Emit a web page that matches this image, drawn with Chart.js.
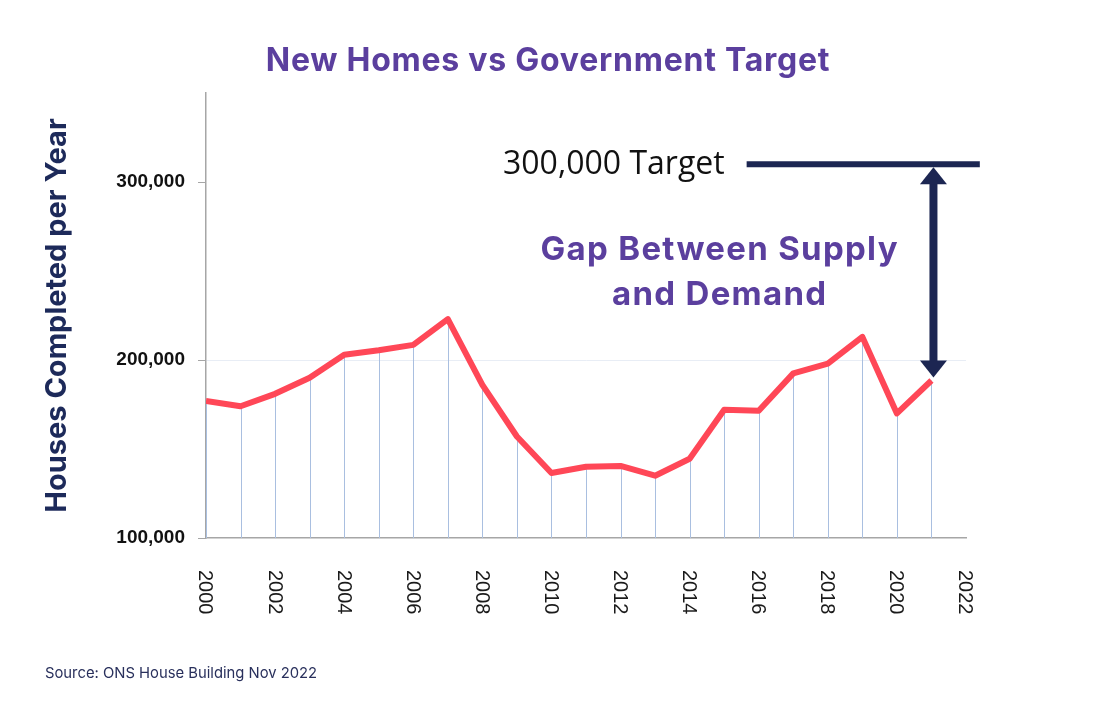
<!DOCTYPE html>
<html lang="en">
<head>
    <meta charset="UTF-8">
    <title>New Homes vs Government Target</title>
    <script src="https://cdn.jsdelivr.net/npm/chart.js"></script>
    <style>
        body {
            margin: 0;
            background: #ffffff;
        }

        .chart-box {
            width: 1096px;
            height: 710px;
        }
    </style>
</head>
<body>
    <div class="chart-box">
        <canvas id="homesChart" width="1096" height="710"></canvas>
    </div>

    <script>
        // data
        const years = [2000, 2001, 2002, 2003, 2004, 2005, 2006, 2007, 2008, 2009, 2010,
            2011, 2012, 2013, 2014, 2015, 2016, 2017, 2018, 2019, 2020, 2021];
        const completions = [177000, 174000, 181000, 190000, 203000, 205500, 208500, 223000,
            186000, 157000, 136500, 140000, 140500, 135000, 144500, 172000, 171500, 192500,
            198000, 213000, 170000, 188500];
        const xTickYears = [2000, 2002, 2004, 2006, 2008, 2010, 2012, 2014, 2016, 2018, 2020, 2022];
        const yTickValues = [100000, 200000, 300000];
        const targetValue = 310000;

        // annotation placement (in axis units)
        const targetFromYear = 2015.65;
        const targetToYear = 2022.4;
        const noteYear = 2014.87;
        const noteValue = 256000;

        const PURPLE = '#5b3f9e';
        const NAVY = '#1c2652';

        const annotations = {
            id: 'annotations',
            beforeDatasetsDraw(chart) {
                // thin drop lines from each point to the axis
                const ctx = chart.ctx;
                const y = chart.scales.y;
                ctx.save();
                ctx.strokeStyle = '#a9bfe0';
                ctx.lineWidth = 1;
                chart.getDatasetMeta(0).data.forEach(pt => {
                    ctx.beginPath();
                    ctx.moveTo(Math.round(pt.x) + 0.5, pt.y);
                    ctx.lineTo(Math.round(pt.x) + 0.5, y.bottom);
                    ctx.stroke();
                });
                ctx.restore();
            },
            afterDraw(chart) {
                const ctx = chart.ctx;
                const x = chart.scales.x;
                const y = chart.scales.y;
                ctx.save();

                // title
                ctx.fillStyle = PURPLE;
                ctx.font = 'bold 32px Inter';
                ctx.letterSpacing = '0.75px';
                ctx.textAlign = 'center';
                ctx.textBaseline = 'middle';
                ctx.fillText('New Homes vs Government Target', 548, 61);
                ctx.letterSpacing = '0px';

                // x tick labels, turned clockwise
                ctx.fillStyle = '#1a1a1a';
                ctx.font = '20px "Liberation Sans"';
                ctx.textAlign = 'left';
                xTickYears.forEach(v => {
                    ctx.save();
                    ctx.translate(x.getPixelForValue(v) - 1, x.top + 32);
                    ctx.rotate(Math.PI / 2);
                    ctx.fillText(String(v), 0, 0);
                    ctx.restore();
                });

                // target line
                const yT = y.getPixelForValue(targetValue);
                const x0 = x.getPixelForValue(targetFromYear);
                const x1 = x.getPixelForValue(targetToYear);
                ctx.strokeStyle = NAVY;
                ctx.lineWidth = 6;
                ctx.beginPath();
                ctx.moveTo(x0, yT);
                ctx.lineTo(x1, yT);
                ctx.stroke();

                ctx.fillStyle = '#111111';
                ctx.font = '32px "Open Sans"';
                ctx.textAlign = 'right';
                ctx.textBaseline = 'middle';
                ctx.fillText('300,000 Target', x0 - 22, yT + 1);

                // double arrow down to the last point
                const pts = chart.getDatasetMeta(0).data;
                const last = pts[pts.length - 1];
                const ax = last.x + 2;
                const top = yT + 3;
                const bottom = last.y - 3;
                const headW = 13.5;
                const headH = 17;
                ctx.strokeStyle = NAVY;
                ctx.fillStyle = NAVY;
                ctx.lineWidth = 8;
                ctx.beginPath();
                ctx.moveTo(ax, top + headH - 1);
                ctx.lineTo(ax, bottom - headH + 1);
                ctx.stroke();
                ctx.beginPath();
                ctx.moveTo(ax, top);
                ctx.lineTo(ax - headW, top + headH);
                ctx.lineTo(ax + headW, top + headH);
                ctx.closePath();
                ctx.fill();
                ctx.beginPath();
                ctx.moveTo(ax, bottom);
                ctx.lineTo(ax - headW, bottom - headH);
                ctx.lineTo(ax + headW, bottom - headH);
                ctx.closePath();
                ctx.fill();

                // gap note
                const nx = x.getPixelForValue(noteYear);
                const ny = y.getPixelForValue(noteValue);
                ctx.fillStyle = PURPLE;
                ctx.font = 'bold 33px Inter';
                ctx.letterSpacing = '1.3px';
                ctx.textAlign = 'center';
                ctx.textBaseline = 'alphabetic';
                ctx.fillText('Gap Between Supply', nx, ny);
                ctx.fillText('and Demand', nx, ny + 45);
                ctx.letterSpacing = '0px';

                // source
                ctx.fillStyle = '#29305c';
                ctx.font = '14.8px Inter';
                ctx.textAlign = 'left';
                ctx.fillText('Source: ONS House Building Nov 2022', 45, 678);

                ctx.restore();
            }
        };

        new Chart(document.getElementById('homesChart'), {
            type: 'line',
            data: {
                datasets: [{
                    label: 'Houses completed',
                    data: years.map((yr, i) => ({ x: yr, y: completions[i] })),
                    borderColor: '#ff4757',
                    borderWidth: 6,
                    borderJoinStyle: 'round',
                    pointRadius: 0,
                    tension: 0
                }]
            },
            options: {
                responsive: false,
                animation: false,
                layout: {
                    padding: { top: 93, right: 130 }
                },
                plugins: {
                    legend: { display: false },
                    tooltip: { enabled: false }
                },
                scales: {
                    x: {
                        type: 'linear',
                        min: 2000,
                        max: 2022,
                        afterBuildTicks: scale => {
                            scale.ticks = xTickYears.map(v => ({ value: v }));
                        },
                        afterFit: scale => {
                            scale.height = 172;
                        },
                        ticks: { display: false },
                        grid: { display: false },
                        border: { display: true, color: '#a6a6a6', width: 1.5 }
                    },
                    y: {
                        min: 100000,
                        max: 350000,
                        afterBuildTicks: scale => {
                            scale.ticks = yTickValues.map(v => ({ value: v }));
                        },
                        afterFit: scale => {
                            scale.width = 206;
                        },
                        ticks: {
                            color: '#111111',
                            padding: 13,
                            font: { family: '"Liberation Sans"', size: 19, weight: 'bold' },
                            callback: v => v.toLocaleString('en-US')
                        },
                        grid: {
                            color: c => (c.tick && c.tick.value === 200000) ? '#e8edf5' : 'rgba(0,0,0,0)',
                            tickColor: '#a6a6a6',
                            tickLength: 8
                        },
                        border: { display: true, color: '#a6a6a6', width: 1.5 },
                        title: {
                            display: true,
                            text: 'Houses Completed per Year',
                            color: '#1d2a5a',
                            font: { family: 'Inter', size: 29, weight: 'bold' },
                            padding: { top: 40, bottom: 0 }
                        }
                    }
                }
            },
            plugins: [annotations]
        });
    </script>
</body>
</html>
